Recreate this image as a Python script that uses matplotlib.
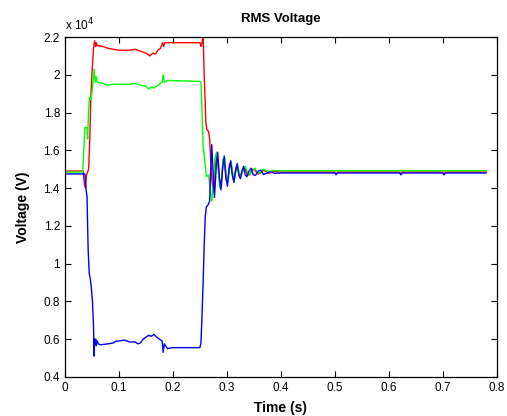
import numpy as np
import matplotlib
matplotlib.use('Agg')
import matplotlib.pyplot as plt
from matplotlib.ticker import FuncFormatter, MultipleLocator

plt.rcParams['font.family'] = ['Liberation Sans', 'DejaVu Sans']

# Дані (напруга в одиницях 1e4 В)
t_red = [0, 0.034, 0.036, 0.038, 0.040, 0.044, 0.046, 0.048, 0.050, 0.053, 0.055,
         0.057, 0.058, 0.060, 0.07, 0.08, 0.09, 0.10, 0.12, 0.13, 0.14, 0.15, 0.157,
         0.163, 0.168, 0.172, 0.177, 0.181, 0.183, 0.185, 0.19, 0.2, 0.25, 0.252,
         0.254, 0.256, 0.258, 0.261, 0.263, 0.266, 0.268,
         0.272, 0.275, 0.278, 0.281, 0.284, 0.287, 0.290, 0.293, 0.296, 0.299, 0.302,
         0.305, 0.308, 0.311, 0.314, 0.317, 0.320, 0.323, 0.326, 0.330, 0.334, 0.338,
         0.342, 0.347, 0.352, 0.357, 0.362, 0.367, 0.372, 0.378, 0.385, 0.40, 0.50,
         0.502, 0.505, 0.62, 0.622, 0.625, 0.70, 0.702, 0.705, 0.78]
v_red = [1.49, 1.49, 1.42, 1.40, 1.47, 1.50, 1.65, 1.88, 2.00, 2.14, 2.18,
         2.15, 2.17, 2.155, 2.15, 2.14, 2.135, 2.13, 2.13, 2.135, 2.125, 2.115, 2.10,
         2.115, 2.11, 2.13, 2.14, 2.17, 2.15, 2.17, 2.17, 2.17, 2.17, 2.15,
         2.17, 2.21, 2.00, 1.75, 1.71, 1.70, 1.66,
         1.45, 1.38, 1.50, 1.58, 1.52, 1.42, 1.44, 1.55, 1.53, 1.44, 1.45,
         1.53, 1.52, 1.455, 1.46, 1.51, 1.51, 1.465, 1.47, 1.505, 1.50, 1.47,
         1.47, 1.50, 1.495, 1.475, 1.478, 1.495, 1.49, 1.478, 1.488, 1.485, 1.485,
         1.476, 1.485, 1.485, 1.476, 1.485, 1.485, 1.476, 1.485, 1.485]

t_green = [0, 0.033, 0.035, 0.037, 0.041, 0.042, 0.044, 0.046, 0.048, 0.050, 0.052,
           0.054, 0.056, 0.058, 0.060, 0.07, 0.08, 0.09, 0.10, 0.12, 0.13, 0.14,
           0.15, 0.155, 0.16, 0.165, 0.17, 0.175, 0.18, 0.182, 0.184, 0.19, 0.25,
           0.252, 0.254, 0.256, 0.258, 0.260, 0.262,
           0.266, 0.269, 0.272, 0.275, 0.278, 0.281, 0.284, 0.287, 0.290, 0.293,
           0.296, 0.299, 0.302, 0.305, 0.308, 0.311, 0.314, 0.317, 0.320, 0.323,
           0.326, 0.330, 0.334, 0.338, 0.342, 0.347, 0.352, 0.357, 0.362, 0.367,
           0.372, 0.378, 0.385, 0.40, 0.78]
v_green = [1.485, 1.485, 1.60, 1.72, 1.72, 1.66, 1.82, 1.88, 1.87, 1.90, 1.96,
           2.03, 1.96, 1.99, 1.96, 1.955, 1.945, 1.95, 1.95, 1.95, 1.955, 1.945,
           1.94, 1.925, 1.935, 1.93, 1.94, 1.95, 1.96, 2.00, 1.96, 1.97, 1.965,
           1.96, 1.80, 1.62, 1.58, 1.52, 1.46,
           1.47, 1.40, 1.33, 1.42, 1.56, 1.59, 1.49, 1.40, 1.42, 1.55,
           1.56, 1.46, 1.43, 1.50, 1.54, 1.48, 1.45, 1.49, 1.52, 1.48,
           1.465, 1.49, 1.515, 1.485, 1.47, 1.495, 1.505, 1.48, 1.482, 1.50,
           1.495, 1.485, 1.493, 1.492, 1.492]

t_blue = [0, 0.037, 0.039, 0.041, 0.043, 0.045, 0.047, 0.049, 0.051, 0.053, 0.054,
          0.055, 0.056, 0.057, 0.058, 0.060, 0.062, 0.065, 0.08, 0.09, 0.095, 0.10,
          0.11, 0.12, 0.13, 0.135, 0.14, 0.145, 0.15, 0.155, 0.16, 0.165, 0.17,
          0.175, 0.18, 0.182, 0.184, 0.19, 0.2, 0.25, 0.252, 0.254, 0.256, 0.258,
          0.260, 0.262, 0.265, 0.268,
          0.270, 0.272, 0.275, 0.277, 0.280, 0.283, 0.286, 0.289, 0.292, 0.295,
          0.298, 0.301, 0.304, 0.307, 0.310, 0.313, 0.316, 0.319, 0.322, 0.325,
          0.328, 0.331, 0.334, 0.337, 0.341, 0.345, 0.349, 0.353, 0.358, 0.363,
          0.368, 0.374, 0.380, 0.388, 0.40, 0.50, 0.502, 0.505, 0.62, 0.622, 0.625,
          0.70, 0.702, 0.705, 0.78]
v_blue = [1.475, 1.475, 1.40, 1.35, 1.08, 0.95, 0.92, 0.87, 0.80, 0.67, 0.51,
          0.60, 0.57, 0.60, 0.565, 0.59, 0.575, 0.57, 0.575, 0.58, 0.59, 0.59,
          0.595, 0.585, 0.585, 0.575, 0.58, 0.60, 0.61, 0.62, 0.615, 0.625, 0.61,
          0.60, 0.59, 0.53, 0.575, 0.55, 0.555, 0.555, 0.58, 0.73, 0.90, 1.10,
          1.25, 1.30, 1.31, 1.33,
          1.50, 1.63, 1.45, 1.35, 1.50, 1.59, 1.46, 1.39, 1.50, 1.57,
          1.46, 1.41, 1.50, 1.545, 1.47, 1.43, 1.49, 1.53, 1.47, 1.45,
          1.49, 1.515, 1.47, 1.46, 1.49, 1.505, 1.47, 1.468, 1.49, 1.495,
          1.472, 1.478, 1.488, 1.478, 1.48, 1.48, 1.470, 1.48, 1.48, 1.470, 1.48,
          1.48, 1.470, 1.48, 1.48]

fig = plt.figure(figsize=(5.07, 4.16), dpi=100)
ax = fig.add_axes([0.128, 0.094, 0.852, 0.817])

ax.plot(t_red, np.array(v_red) * 1e4, color='#ff0000', linewidth=1.0)
ax.plot(t_green, np.array(v_green) * 1e4, color='#00ff00', linewidth=1.0)
ax.plot(t_blue, np.array(v_blue) * 1e4, color='#0000ff', linewidth=1.0)

ax.set_xlim(0, 0.8)
ax.set_ylim(0.4e4, 2.2e4)
ax.xaxis.set_major_locator(MultipleLocator(0.1))
ax.yaxis.set_major_locator(MultipleLocator(0.2e4))
ax.xaxis.set_major_formatter(FuncFormatter(lambda v, p: '%g' % round(v, 2)))
ax.yaxis.set_major_formatter(FuncFormatter(lambda v, p: '%g' % round(v / 1e4, 2)))
ax.tick_params(direction='in', top=True, right=True, labelsize=8.5, length=4)
for s in ax.spines.values():
    s.set_linewidth(0.9)

ax.text(0.0, 1.012, 'x 10$^4$', transform=ax.transAxes, fontsize=8.5,
        ha='left', va='bottom')
ax.set_title('RMS Voltage', fontsize=9.5, fontweight='bold', pad=11)
ax.set_xlabel('Time (s)', fontsize=10, fontweight='bold', labelpad=5)
ax.set_ylabel('Voltage (V)', fontsize=10, fontweight='bold', labelpad=10)

plt.savefig('out.png', dpi=100)
